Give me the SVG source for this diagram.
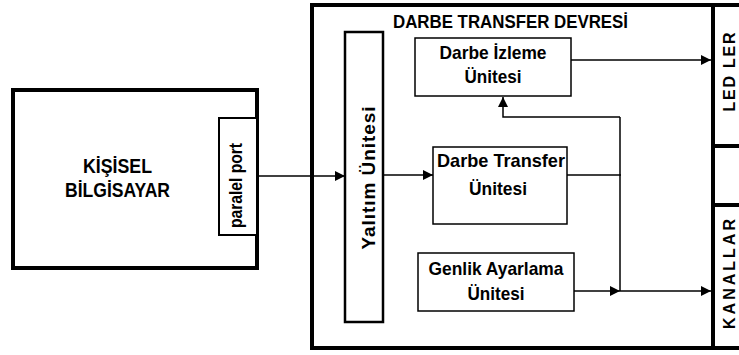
<svg xmlns="http://www.w3.org/2000/svg" width="739" height="355" viewBox="0 0 739 355">
<style>
text{font-family:"Liberation Sans",Arial,sans-serif;font-weight:bold;fill:#000}
.lbl{font-size:19px;text-anchor:middle}
.big{font-size:20px;text-anchor:middle}
.thick{fill:none;stroke:#000;stroke-width:4}
.box{fill:#fff;stroke:#000;stroke-width:1.5}
.wire{fill:none;stroke:#000;stroke-width:1.5}
</style>
<defs>
<marker id="arr" markerUnits="userSpaceOnUse" markerWidth="12" markerHeight="12" refX="10" refY="5" orient="auto">
<path d="M0,0 L10,5 L0,10 Z" fill="#000"/>
</marker>
</defs>
<g id="pc">
<rect x="13" y="90" width="244" height="178" class="thick"/>
<text class="big" x="117.5" y="173" textLength="69" lengthAdjust="spacingAndGlyphs">KİŞİSEL</text>
<text class="big" x="117.5" y="197" textLength="105" lengthAdjust="spacingAndGlyphs">BİLGİSAYAR</text>
</g>
<g id="port">
<rect x="219" y="118" width="38" height="117" fill="#fff" stroke="#000" stroke-width="2"/>
<text font-size="18" text-anchor="middle" textLength="85" lengthAdjust="spacingAndGlyphs" transform="translate(241.5,185.5) rotate(-90)">paralel port</text>
</g>
<g id="devre">
<path d="M739,5 H312 V348 H739" class="thick"/>
<line x1="713" y1="5" x2="713" y2="348" class="thick"/>
<line x1="713" y1="146" x2="739" y2="146" class="thick"/>
<line x1="713" y1="205" x2="739" y2="205" class="thick"/>
<text x="510.5" y="28" font-size="18" text-anchor="middle" textLength="235" lengthAdjust="spacingAndGlyphs">DARBE TRANSFER DEVRESİ</text>
</g>
<g id="ledler">
<text font-size="16" text-anchor="middle" textLength="79" transform="translate(735,72) rotate(-90)">LED LER</text>
</g>
<g id="kanallar">
<text font-size="16" text-anchor="middle" textLength="110" transform="translate(735,274) rotate(-90)">KANALLAR</text>
</g>
<g id="yalitim">
<rect x="345" y="32" width="38" height="290" fill="#fff" stroke="#000" stroke-width="2.5"/>
<text font-size="19" text-anchor="middle" textLength="143" transform="translate(375,178) rotate(-90)">Yalıtım Ünitesi</text>
</g>
<g id="izleme">
<rect x="415" y="38" width="156" height="58" class="box"/>
<text class="lbl" x="493" y="59" textLength="107" lengthAdjust="spacingAndGlyphs">Darbe İzleme</text>
<text class="lbl" x="493" y="83" textLength="57" lengthAdjust="spacingAndGlyphs">Ünitesi</text>
</g>
<g id="transfer">
<rect x="433" y="147" width="134" height="77" class="box"/>
<text class="lbl" x="501" y="167" textLength="128" lengthAdjust="spacingAndGlyphs">Darbe Transfer</text>
<text class="lbl" x="498" y="195" textLength="58" lengthAdjust="spacingAndGlyphs">Ünitesi</text>
</g>
<g id="genlik">
<rect x="418" y="253" width="156" height="58" class="box"/>
<text class="lbl" x="496" y="275" textLength="135" lengthAdjust="spacingAndGlyphs">Genlik Ayarlama</text>
<text class="lbl" x="496" y="300" textLength="57" lengthAdjust="spacingAndGlyphs">Ünitesi</text>
</g>
<g id="connectors">
<line x1="257" y1="176" x2="345" y2="176" class="wire" marker-end="url(#arr)"/>
<line x1="383" y1="175" x2="433" y2="175" class="wire" marker-end="url(#arr)"/>
<line x1="567" y1="175" x2="621" y2="175" class="wire"/>
<line x1="620" y1="117" x2="620" y2="291" class="wire"/>
<path d="M620,117 H503 V97" class="wire" marker-end="url(#arr)"/>
<line x1="571" y1="60" x2="711" y2="60" class="wire" marker-end="url(#arr)"/>
<line x1="574" y1="291" x2="620" y2="291" class="wire" marker-end="url(#arr)"/>
<line x1="620" y1="291" x2="711" y2="291" class="wire" marker-end="url(#arr)"/>
</g>
</svg>
